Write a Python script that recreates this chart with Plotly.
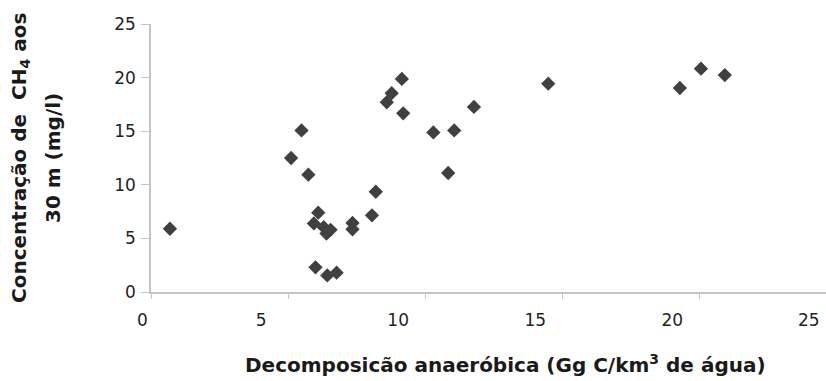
import plotly.graph_objects as go

# Data
decomposicao = [0.69, 5.11, 5.49, 5.74, 6.10, 5.94, 6.30, 6.55, 6.40, 6.00, 6.43, 6.77,
                7.35, 7.35, 8.06, 8.20, 8.60, 8.78, 9.15, 9.20, 10.30, 10.84, 11.06,
                11.78, 14.49, 19.29, 20.06, 20.93]
concentracao = [5.9, 12.5, 15.07, 10.94, 7.4, 6.4, 6.05, 5.8, 5.45, 2.3, 1.55, 1.8,
                6.44, 5.85, 7.15, 9.35, 17.7, 18.55, 19.88, 16.67, 14.89, 11.1, 15.07,
                17.26, 19.43, 19.03, 20.83, 20.24]
x_ticks = [0, 5, 10, 15, 20, 25]
y_ticks = [0, 5, 10, 15, 20, 25]

W, H = 826, 381
ML, MR, MT, MB = 151, 0, 24, 89
PX_PER_UNIT = 27.415
XMAX = (W - ML - MR) / PX_PER_UNIT

FONT = "DejaVu Sans"
AXIS_COL = "#c4c4c4"
TICK_FONT = dict(family=FONT, size=17, color="#1f1f1f")

fig = go.Figure()
fig.add_trace(go.Scatter(
    x=decomposicao, y=concentracao, mode="markers",
    marker=dict(symbol="diamond", size=11, color="#404040", line=dict(width=0)),
    showlegend=False, hoverinfo="x+y"))

fig.update_layout(
    width=W, height=H,
    margin=dict(l=ML, r=MR, t=MT, b=MB, pad=0),
    paper_bgcolor="white", plot_bgcolor="white",
    font=TICK_FONT,
    xaxis=dict(range=[0, XMAX], tickvals=x_ticks,
               ticktext=[""] + [str(v) for v in x_ticks[1:]],
               showgrid=False, zeroline=False, showline=True, linecolor=AXIS_COL,
               linewidth=1.5, ticks="outside", ticklen=5, tickcolor=AXIS_COL,
               tickwidth=1, ticklabelshift=-27, ticklabelstandoff=7, tickfont=TICK_FONT),
    yaxis=dict(range=[0, 25], tickvals=y_ticks, ticktext=[str(v) for v in y_ticks],
               showgrid=False, zeroline=False, showline=True, linecolor=AXIS_COL,
               linewidth=1.5, ticks="outside", ticklen=8, tickcolor=AXIS_COL,
               tickwidth=1, ticklabelstandoff=2, tickfont=TICK_FONT),
)

# end x-tick labels placed as in the reference ("25" lies beyond the visible plot edge)
fig.add_annotation(text=str(x_ticks[0]), xref="paper", yref="paper",
                   x=x_ticks[0] / XMAX, y=0, xshift=-9, yshift=-16,
                   xanchor="center", yanchor="top", showarrow=False,
                   font=TICK_FONT)
fig.add_annotation(text=str(x_ticks[-1]), xref="paper", yref="paper",
                   x=x_ticks[-1] / XMAX, y=0, xshift=-27, yshift=-16,
                   xanchor="center", yanchor="top", showarrow=False,
                   font=TICK_FONT)

title_font = dict(family=FONT, size=20, color="#1a1a1a", weight="bold")
fig.add_annotation(text="Decomposicão anaeróbica (Gg C/km<sup>3</sup> de água)",
                   xref="paper", yref="paper", x=(505 - ML) / (W - ML - MR),
                   y=(H - MB - 364) / (H - MT - MB), xanchor="center", yanchor="middle",
                   showarrow=False, font=title_font)
fig.add_annotation(text="Concentração de  CH<sub>4</sub> aos",
                   xref="paper", yref="paper", x=(20 - ML) / (W - ML - MR), y=0.5,
                   xanchor="center", yanchor="middle", textangle=-90,
                   showarrow=False, font=title_font)
fig.add_annotation(text="30 m (mg/l)",
                   xref="paper", yref="paper", x=(53 - ML) / (W - ML - MR), y=0.5,
                   xanchor="center", yanchor="middle", textangle=-90,
                   showarrow=False, font=title_font)

fig.write_html("out.html", config={"displayModeBar": False},
               post_script="document.body.style.margin='0';document.body.style.overflow='hidden';")
